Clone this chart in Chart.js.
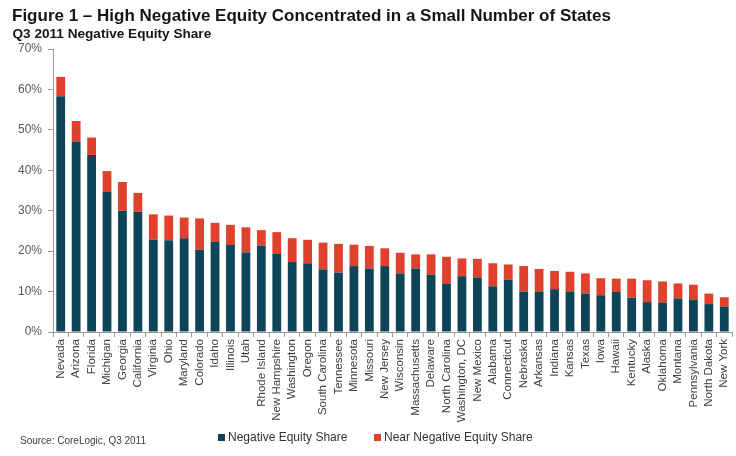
<!DOCTYPE html>
<html>
<head>
<meta charset="utf-8">
<script src="https://cdn.jsdelivr.net/npm/chart.js@4"></script>
<style>
  html,body{margin:0;padding:0;background:#fff;}
  #wrap{width:736px;height:456px;}
</style>
</head>
<body>
<div id="wrap"><canvas id="c" width="736" height="456"></canvas></div>
<script>
const states = ["Nevada","Arizona","Florida","Michigan","Georgia","California","Virginia","Ohio","Maryland","Colorado","Idaho","Illinois","Utah","Rhode Island","New Hampshire","Washington","Oregon","South Carolina","Tennessee","Minnesota","Missouri","New Jersey","Wisconsin","Massachusetts","Delaware","North Carolina","Washington, DC","New Mexico","Alabama","Connecticut","Nebraska","Arkansas","Indiana","Kansas","Texas","Iowa","Hawaii","Kentucky","Alaska","Oklahoma","Montana","Pennsylvania","North Dakota","New York"];
const negativeShare = [58.3,47.1,43.8,34.6,30.0,29.7,22.9,22.7,23.2,20.4,22.3,21.5,19.7,21.4,19.3,17.3,17.0,15.5,14.7,16.3,15.7,16.3,14.5,15.7,14.2,11.9,13.8,13.5,11.3,12.9,10.0,9.9,10.6,9.9,9.5,9.1,9.9,8.5,7.4,7.3,8.3,7.9,6.9,6.3];
const nearNegativeShare = [4.8,5.1,4.3,5.2,7.1,4.7,6.2,6.1,5.1,7.7,4.7,5.0,6.2,3.8,5.4,5.9,5.8,6.6,7.1,5.3,5.6,4.4,5.1,3.5,5.0,6.7,4.4,4.6,5.7,3.8,6.3,5.7,4.5,5.0,5.0,4.2,3.3,4.7,5.4,5.2,3.7,3.8,2.6,2.3];
const yTicks = [0,10,20,30,40,50,60,70];
const titleText = "Figure 1 \u2013 High Negative Equity Concentrated in a Small Number of States";
const subtitleText = "Q3 2011 Negative Equity Share";
const sourceText = "Source: CoreLogic, Q3 2011";

const FONT = "'Liberation Sans', Arial, sans-serif";

const decorPlugin = {
  id: 'decor',
  afterDraw(chart) {
    const ctx = chart.ctx;
    ctx.save();
    ctx.textAlign = "left";
    ctx.textBaseline = "alphabetic";
    ctx.fillStyle = "#151515";
    ctx.font = "bold 17px " + FONT;
    ctx.fillText(titleText, 12, 21);
    ctx.font = "bold 13.6px " + FONT;
    ctx.fillText(subtitleText, 12.5, 37.5);

    ctx.font = "10px " + FONT;
    ctx.fillStyle = "#404040";
    ctx.textBaseline = "middle";
    ctx.fillText(sourceText, 20, 441);

    // legend
    const starts = [218, 374];
    ctx.font = "12px " + FONT;
    chart.data.datasets.forEach((ds, i) => {
      const x = starts[i];
      ctx.fillStyle = ds.backgroundColor;
      ctx.fillRect(x, 434, 7, 7);
      ctx.fillStyle = "#333";
      ctx.fillText(ds.label, x + 10, 438);
    });
    ctx.restore();
  }
};

new Chart(document.getElementById('c'), {
  type: 'bar',
  data: {
    labels: states,
    datasets: [
      { label: 'Negative Equity Share', data: negativeShare, backgroundColor: '#0e4457', barPercentage: 0.57, categoryPercentage: 1.0 },
      { label: 'Near Negative Equity Share', data: nearNegativeShare, backgroundColor: '#e0412c', barPercentage: 0.57, categoryPercentage: 1.0 }
    ]
  },
  options: {
    responsive: false,
    animation: false,
    devicePixelRatio: 1,
    layout: { padding: { left: 8, right: 4, top: 49, bottom: 32 } },
    plugins: {
      title: { display: false },
      legend: { display: false },
      tooltip: { enabled: false }
    },
    scales: {
      x: {
        stacked: true,
        grid: { display: true, drawOnChartArea: false, color: '#9a9a9a', tickLength: 5, offset: true },
        border: { color: '#9a9a9a' },
        ticks: { minRotation: 90, maxRotation: 90, autoSkip: false, color: '#404040', font: { family: FONT, size: 11.5 }, padding: 2 },
        afterFit(s) { s.height = 92; s.paddingLeft = 0; s.paddingRight = 0; }
      },
      y: {
        stacked: true, min: 0, max: 70,
        afterBuildTicks(s) { s.ticks = yTicks.map(v => ({ value: v })); },
        grid: { display: true, drawOnChartArea: false, color: '#9a9a9a', tickLength: 5 },
        border: { color: '#9a9a9a' },
        ticks: { color: '#595959', font: { family: FONT, size: 12 }, padding: 6, callback: v => v + '%' },
        afterFit(s) { s.width = 45; s.paddingTop = 0; s.paddingBottom = 0; }
      }
    }
  },
  plugins: [decorPlugin]
});
</script>
</body>
</html>
